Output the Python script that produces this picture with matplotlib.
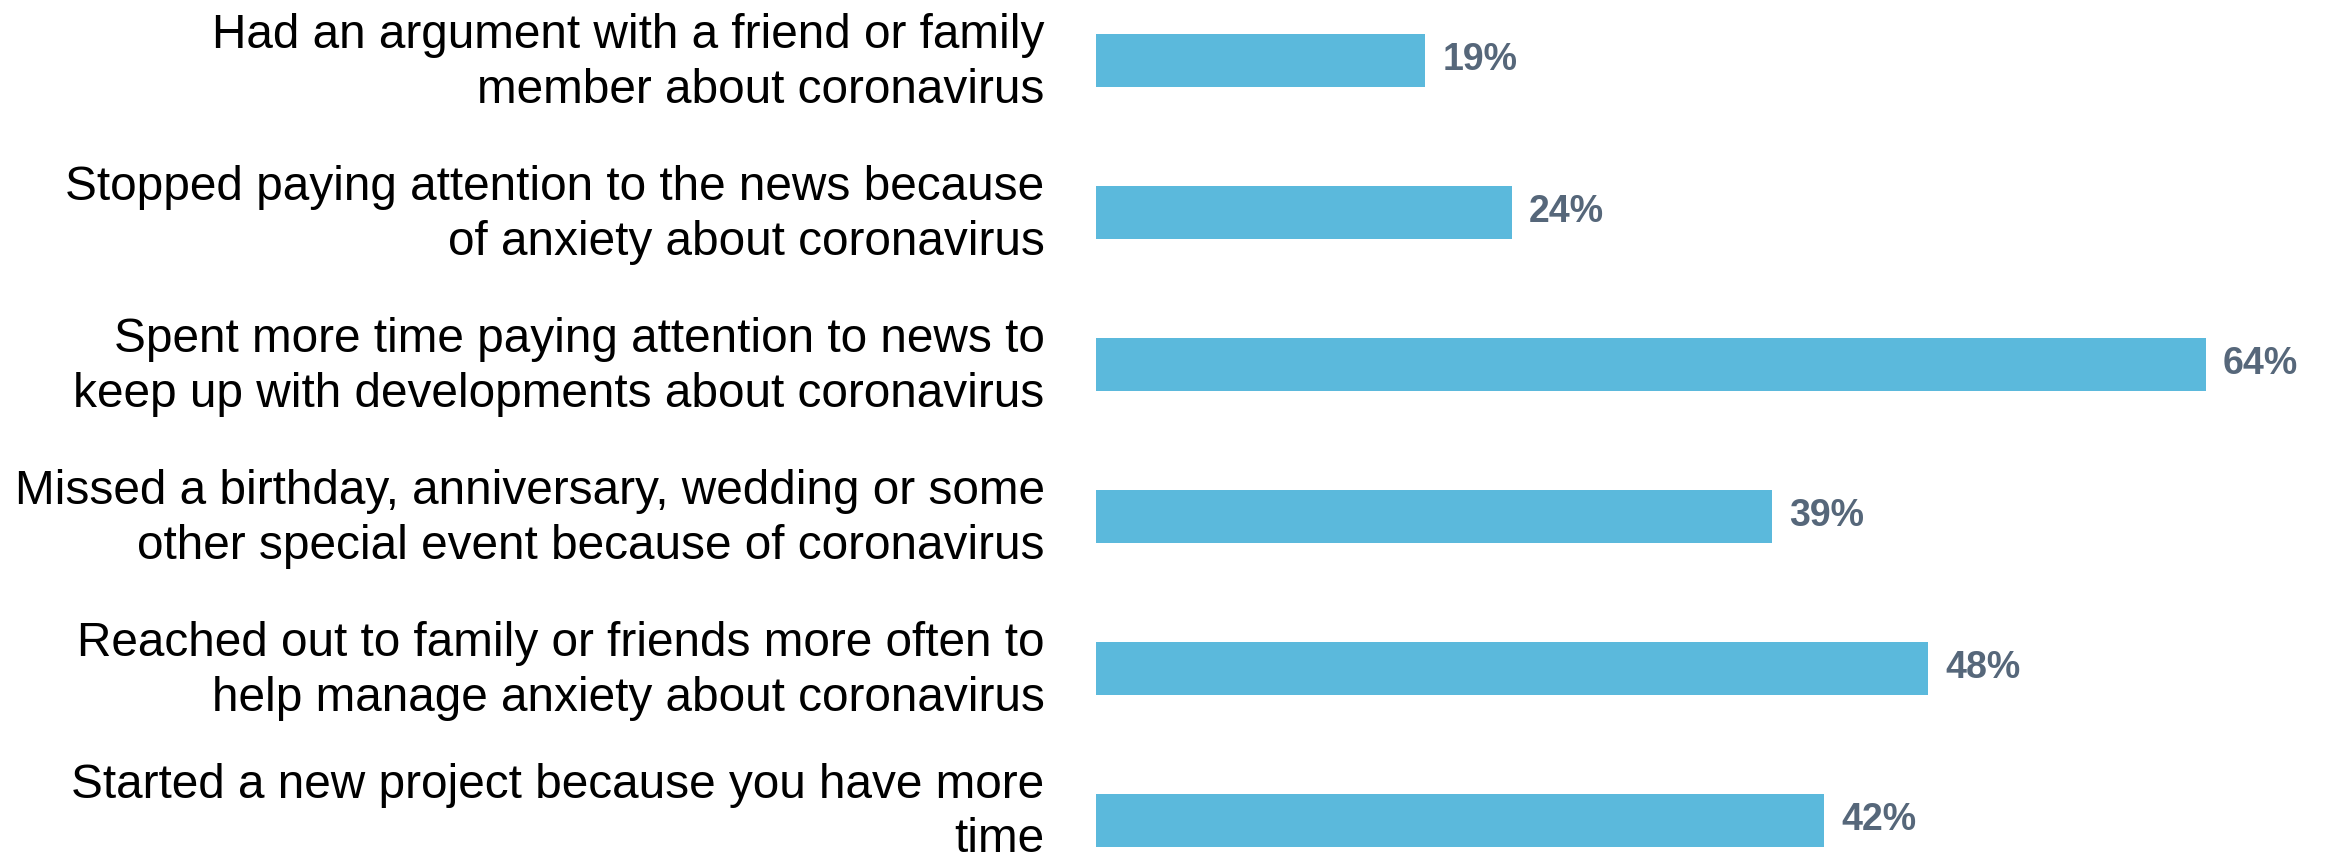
import matplotlib
matplotlib.use("Agg")
import matplotlib.pyplot as plt
from matplotlib.transforms import ScaledTranslation

categories = [
    "Had an argument with a friend or family\nmember about coronavirus",
    "Stopped paying attention to the news because\nof anxiety about coronavirus",
    "Spent more time paying attention to news to\nkeep up with developments about coronavirus",
    "Missed a birthday, anniversary, wedding or some\nother special event because of coronavirus",
    "Reached out to family or friends more often to\nhelp manage anxiety about coronavirus",
    "Started a new project because you have more\ntime",
]
values = [19, 24, 64, 39, 48, 42]
value_labels = ["19%", "24%", "64%", "39%", "48%", "42%"]

plt.rcParams['font.family'] = ['Liberation Sans', 'DejaVu Sans']

W, H = 2328, 858
fig = plt.figure(figsize=(W / 100, H / 100), dpi=100)
ax = fig.add_axes([1096 / W, 0, 1 - 1096 / W, 1])

ypos = list(range(len(categories)))
ax.barh(ypos, values, height=0.35, color="#5BB9DC")

ax.set_xlim(0, (W - 1096) / 17.34)
top = (0 - 60.5) / 152
bot = (H - 60.5) / 152
ax.set_ylim(bot, top)

ax.set_yticks(ypos)
ax.set_yticklabels(categories, fontsize=34.4, color="black", linespacing=1.28)
ax.tick_params(axis='y', length=0, pad=37)
ax.set_xticks([])
for s in ax.spines.values():
    s.set_visible(False)

# labels sit a touch higher than the bar centres in the reference
labels = ax.get_yticklabels()
for i, t in enumerate(labels):
    dy = 0.18 if i == len(labels) - 1 else 0.07
    t.set_transform(t.get_transform() + ScaledTranslation(0, dy, fig.dpi_scale_trans))

for y, v, lab in zip(ypos, values, value_labels):
    ax.annotate(lab, (v, y), xytext=(12, 0), textcoords="offset points",
                ha="left", va="center", fontsize=27, fontweight="bold",
                color="#56677A")

fig.savefig("out.png", dpi=100)
